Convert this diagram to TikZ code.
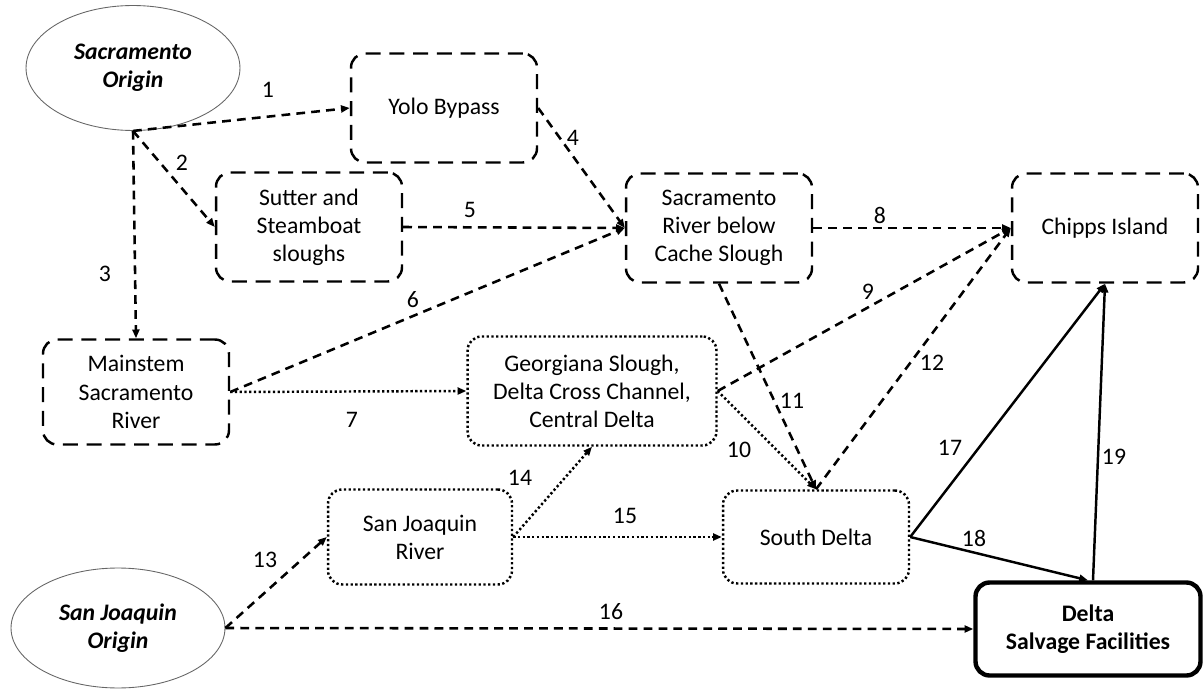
\documentclass[tikz,border=0pt]{standalone}
\usepackage{fontspec}
\setmainfont{Carlito}
\usetikzlibrary{arrows.meta,shapes.geometric}

\begin{document}
\begin{tikzpicture}[x=0.02cm, y=-0.02cm,
    font=\fontsize{13.5}{16}\selectfont,
    >={Triangle[length=5pt,width=4pt]},
    origin/.style ={ellipse, draw=black!60, line width=0.5pt, minimum width=4.28cm, minimum height=2.5cm,
                    align=center, font=\fontsize{13.5}{16}\selectfont\bfseries\itshape},
    reach/.style ={draw, rounded corners=8pt, line width=1.4pt, dash pattern=on 8.5pt off 5pt,
                   minimum width=3.72cm, minimum height=2.18cm, align=center},
    dotreach/.style ={reach, dash pattern=on 1.3pt off 1.4pt},
    salvage/.style ={draw, rounded corners=8pt, line width=2.5pt, minimum width=4.5cm,
                     minimum height=1.86cm, align=center, font=\fontsize{13.5}{16}\selectfont\bfseries},
    route/.style ={->, line width=1.45pt, dash pattern=on 5pt off 3.5pt},
    dotroute/.style ={->, line width=1.4pt, dash pattern=on 1.3pt off 1.4pt},
    solidroute/.style ={->, line width=1.4pt},
    num/.style ={inner sep=1pt}]
   \useasboundingbox (0,0) rectangle (1204,689);

   \node[origin] (SacO) at (133,68)  {Sacramento\\Origin};
   \node[origin, minimum height=2.4cm] (SJO) at (118,628)  {San Joaquin\\Origin};
   \node[reach] (Yolo) at (444,108)  {Yolo Bypass};
   \node[reach] (Sutter) at (309,227)  {Sutter and\\Steamboat\\sloughs};
   \node[reach] (SacR) at (719,228)  {Sacramento\\River below\\Cache Slough};
   \node[reach] (Chipps) at (1105,228)  {Chipps Island};
   \node[reach, minimum height=2.1cm] (Main) at (136,392)  {Mainstem\\Sacramento\\River};
   \node[dotreach, minimum width=4.98cm] (Georg) at (592,391)  {Georgiana Slough,\\Delta Cross Channel,\\Central Delta};
   \node[dotreach, minimum width=3.68cm, minimum height=1.9cm] (SJR) at (420,537)  {San Joaquin\\River};
   \node[dotreach, minimum height=1.86cm] (SDelta) at (816,537)  {South Delta};
   \node[salvage] (Salv) at (1088,629)  {Delta\\Salvage Facilities};

   \draw[route] (SacO.south) to (Yolo.west);
   \draw[route] (SacO.south) to (Sutter.west);
   \draw[route] (SacO.south) to (Main.north);
   \draw[route] (Yolo.east) to (SacR.west);
   \draw[route] (Sutter.east) to (SacR.west);
   \draw[route] (Main.east) to (SacR.west);
   \draw[dotroute] (Main.east) to (Georg.west);
   \draw[route] (SacR.east) to (Chipps.west);
   \draw[route] (Georg.east) to (Chipps.west);
   \draw[dotroute] (Georg.east) to (SDelta.north);
   \draw[route] (SacR.south) to (SDelta.north);
   \draw[route] (SDelta.north) to (Chipps.west);
   \draw[route] (SJO.east) to (SJR.west);
   \draw[dotroute] (SJR.east) to (Georg.south);
   \draw[dotroute] (SJR.east) to (SDelta.west);
   \draw[route] (SJO.east) to (Salv.west);
   \draw[solidroute] (SDelta.east) to (Chipps.south);
   \draw[solidroute] (SDelta.east) to (Salv.north);
   \draw[solidroute] ([xshift=0.1cm]Salv.north) to (Chipps.south);

   \node[num] (n1) at (268,90) {1};
   \node[num] (n2) at (182,163) {2};
   \node[num] (n3) at (105,274) {3};
   \node[num] (n4) at (573,138) {4};
   \node[num] (n5) at (470,210) {5};
   \node[num] (n6) at (413,300) {6};
   \node[num] (n7) at (352,420) {7};
   \node[num] (n8) at (880,215) {8};
   \node[num] (n9) at (868,292) {9};
   \node[num] (n10) at (739,450) {10};
   \node[num] (n11) at (792,401) {11};
   \node[num] (n12) at (932,363) {12};
   \node[num] (n13) at (265,560) {13};
   \node[num] (n14) at (520,478) {14};
   \node[num] (n15) at (625,516) {15};
   \node[num] (n16) at (611,612) {16};
   \node[num] (n17) at (950,448) {17};
   \node[num] (n18) at (974,538) {18};
   \node[num] (n19) at (1114,457) {19};
\end{tikzpicture}
\end{document}
